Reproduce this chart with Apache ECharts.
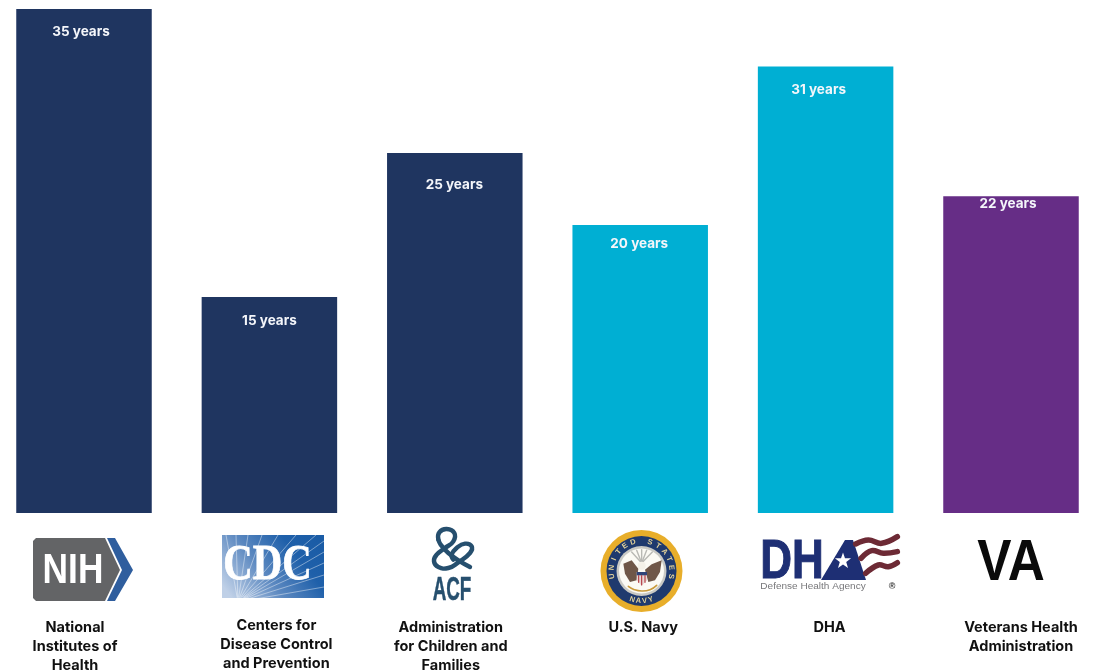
<!DOCTYPE html>
<html>
<head>
<meta charset="utf-8">
<style>html,body{margin:0;padding:0;background:#fff}#chart{width:1095px;height:672px}</style>
<script src="https://cdn.jsdelivr.net/npm/echarts@6/dist/echarts.min.js"></script>
</head>
<body>
<div id="chart"></div>
<script>
// Years of service by agency
const agencies = ['National\nInstitutes of\nHealth', 'Centers for\nDisease Control\nand Prevention', 'Administration\nfor Children and\nFamilies', 'U.S. Navy', 'DHA', 'Veterans Health\nAdministration'];
const years = [35, 15, 25, 20, 31, 22];
const barColors = ['#1F3560', '#1F3560', '#1F3560', '#00AFD3', '#00AFD3', '#662D86'];

// Nudges for the value labels and the agency names, in pixels
const valueLabelOffsets = [[-3, 16], [0, 17], [-0.5, 25], [-1, 12], [-7, 16], [-3, 1]];
const nameShifts = [-9, 7, -4, 3, 4, 10];
const nameDrops = [2, 0, 2, 2, 2, 2];

const FONT = 'Inter, "Open Sans", sans-serif';
const LOGO_FONT = '"Liberation Sans", Arial, sans-serif';

function txt(x, y, text, size, fill, opts) {
  opts = opts || {};
  const style = {
    text: text, x: 0, y: 0, fill: fill, align: 'center', verticalAlign: 'middle',
    font: (opts.weight || 'bold') + ' ' + size + 'px ' + (opts.family || LOGO_FONT),
    opacity: opts.opacity == null ? 1 : opts.opacity
  };
  if (opts.outline) {
    style.stroke = fill;
    style.lineWidth = opts.outline;
  }
  return {
    type: 'text', silent: true, x: x, y: y,
    scaleX: opts.sx || 1, scaleY: opts.sy || 1, rotation: opts.rot || 0,
    style: style
  };
}
function poly(points, fill) {
  return { type: 'polygon', silent: true, shape: { points: points }, style: { fill: fill } };
}
function stroke(points, color, width, smooth) {
  return {
    type: 'polyline', silent: true,
    shape: { points: points, smooth: smooth || 0 },
    style: { stroke: color, lineWidth: width, fill: null, lineCap: 'round', lineJoin: 'round' }
  };
}
function disc(cx, cy, r, fill) {
  return { type: 'circle', silent: true, shape: { cx: cx, cy: cy, r: r }, style: { fill: fill } };
}

// NIH tag and chevron
const nihLogo = [
  poly([[36, 538], [105, 538], [120, 570], [105, 601], [36, 601], [33, 598], [33, 541]], '#636466'),
  poly([[107, 538], [115, 538], [133, 570], [115, 601], [107, 601], [122, 570]], '#2F5E9E'),
  txt(73, 571, 'NIH', 42, '#FFFFFF', { sx: 0.84 })
];

// CDC panel with rays fanning out of the lower left
const rayOrigin = [238, 602];
const rayEnds = [[226, 535], [236, 535], [248, 535], [262, 535], [278, 535], [296, 535], [316, 535],
                 [324, 541], [324, 552], [324, 563], [324, 575], [324, 587]];
const cdcLogo = [
  {
    type: 'rect', silent: true, shape: { x: 222, y: 535, width: 102, height: 63 },
    style: {
      fill: {
        type: 'linear', x: 0.1, y: 1, x2: 0.9, y2: 0,
        colorStops: [{ offset: 0, color: '#BFD0E7' }, { offset: 0.4, color: '#5B88C0' }, { offset: 0.75, color: '#1F60AA' }, { offset: 1, color: '#1A5CA6' }]
      }
    }
  }
].concat(rayEnds.map(function (end) {
  const from = [rayOrigin[0] + (end[0] - rayOrigin[0]) * 0.07, rayOrigin[1] + (end[1] - rayOrigin[1]) * 0.07];
  return stroke([from, end], 'rgba(255,255,255,0.42)', 1);
})).concat([
  txt(267.5, 565.5, 'CDC', 51, '#FFFFFF', { family: '"Liberation Serif", serif', sx: 0.8, outline: 0.8 })
]);

// ACF ampersand and wordmark
const acfBlue = '#264F6E';
const acfAt = function (u, v) { return [420 + u / 3, 523 + v / 3]; };
const acfLogo = [
  stroke([[55, 50], [58, 28], [80, 18], [103, 30], [100, 55], [75, 75], [50, 95], [42, 115], [55, 132], [85, 135], [115, 118], [150, 90], [155, 70], [135, 62], [110, 75], [95, 95], [100, 110]].map(function (p) { return acfAt(p[0], p[1]); }), acfBlue, 4.4, 0.5),
  stroke([[55, 50], [62, 65], [85, 90], [120, 115], [150, 132]].map(function (p) { return acfAt(p[0], p[1]); }), acfBlue, 4.4, 0.4),
  txt(452, 590.5, 'ACF', 33, acfBlue, { sx: 0.57, outline: 0.5 })
];

// Navy seal
const sealAt = function (u, v) { return [595 + u / 3, 527 + v / 3]; };
const sealPoly = function (pts, fill) { return poly(pts.map(function (p) { return sealAt(p[0], p[1]); }), fill); };
const sealCx = 641.5, sealCy = 571;
const sealLetters = [];
'UNITED STATES'.split('').forEach(function (ch, i, all) {
  const a = (-100 + 200 * i / (all.length - 1)) * Math.PI / 180;
  sealLetters.push(txt(sealCx + 30 * Math.sin(a), sealCy - 30 * Math.cos(a), ch, 7.5, '#E2D29A', { rot: -a }));
});
'NAVY'.split('').forEach(function (ch, i, all) {
  const b = (18 - 36 * i / (all.length - 1)) * Math.PI / 180;
  sealLetters.push(txt(sealCx - 30 * Math.sin(b), sealCy + 30 * Math.cos(b), ch, 7.5, '#E2D29A', { rot: -b }));
});
const sealRays = [[110, 75], [125, 70], [140, 68], [155, 70], [172, 75]];
const navyLogo = [
  disc(sealCx, sealCy, 41, '#E8AE2A'),
  disc(sealCx, sealCy, 35, '#1F3A6E'),
  disc(sealCx, sealCy, 25, '#C9C9C4'),
  disc(sealCx, sealCy, 22.5, '#FBFAF4')
].concat(sealLetters).concat(sealRays.map(function (end) {
  return stroke([sealAt(140, 108), sealAt(end[0], end[1])], '#B9B9B4', 1.4);
})).concat([
  sealPoly([[85, 110], [110, 100], [130, 125], [125, 160], [105, 165], [90, 140]], '#6F5748'),
  sealPoly([[200, 100], [170, 112], [150, 128], [160, 165], [180, 160], [195, 135]], '#6F5748'),
  disc(sealAt(140, 116)[0], sealAt(140, 116)[1], 4, '#F4F1E8'),
  sealPoly([[125, 135], [156, 135], [156, 160], [140, 176], [125, 160]], '#E9DAD6'),
  sealPoly([[125, 135], [156, 135], [156, 145], [125, 145]], '#2F4478'),
  stroke([[131, 146], [131, 166]].map(function (p) { return sealAt(p[0], p[1]); }), '#B2343C', 1.1),
  stroke([[140, 146], [140, 174]].map(function (p) { return sealAt(p[0], p[1]); }), '#B2343C', 1.1),
  stroke([[150, 146], [150, 166]].map(function (p) { return sealAt(p[0], p[1]); }), '#B2343C', 1.1),
  stroke([[100, 178], [118, 188], [140, 192], [165, 188], [185, 175]].map(function (p) { return sealAt(p[0], p[1]); }), '#C99A3A', 1.6, 0.5)
]);

// DHA wordmark: solid A carrying the star, then the flag stripes
const dhaAt = function (u, v) { return [735 + u / 3, 510 + v / 3]; };
const dhaNavy = '#1E2F74';
const dhaStripes = [
  [[362, 102], [400, 90], [440, 100], [487, 80]],
  [[378, 145], [410, 122], [445, 130], [487, 125]],
  [[392, 190], [430, 165], [460, 170], [487, 158]]
];
const starPoints = [];
for (let i = 0; i < 10; i++) {
  const a = -Math.PI / 2 + i * Math.PI / 5;
  const r = i % 2 ? 3.4 : 8.5;
  starPoints.push([843 + r * Math.cos(a), 561 + r * Math.sin(a)]);
}
const dhaLogo = [
  txt(792, 562.5, 'DH', 55, dhaNavy, { sx: 0.8, outline: 1 }),
  poly([[845, 540], [853, 540], [866, 580], [821, 580]], dhaNavy),
  poly(starPoints, '#FFFFFF')
].concat(dhaStripes.map(function (band) {
  return stroke(band.map(function (p) { return dhaAt(p[0], p[1]); }), '#6D2A35', 5.5, 0.4);
})).concat([
  txt(813, 587, 'Defense Health Agency', 8.5, '#77777A', { weight: 'normal', sx: 1.18 }),
  txt(892, 587, '®', 9, '#333333')
]);

// VA wordmark
const vaLogo = [txt(1011, 564.5, 'VA', 57, '#0A0A0A', { sx: 0.9 })];

const option = {
  animation: false,
  backgroundColor: '#FFFFFF',
  grid: { left: -8.7, top: 9, width: 1112.4, height: 504, containLabel: false, outerBoundsMode: 'none' },
  xAxis: {
    type: 'category',
    data: agencies.map(function (name, i) {
      const shift = nameShifts[i];
      return {
        value: name,
        textStyle: {
          padding: [nameDrops[i], shift < 0 ? -2 * shift : 0, 0, shift > 0 ? 2 * shift : 0],
          verticalAlign: 'top'
        }
      };
    }),
    axisLine: { show: false },
    axisTick: { show: false },
    axisLabel: {
      interval: 0, hideOverlap: false, margin: 103, lineHeight: 19,
      fontFamily: FONT, fontSize: 14.5, fontWeight: 700, color: '#111111', align: 'center', verticalAlign: 'top'
    }
  },
  yAxis: { type: 'value', min: 0, max: 35, show: false },
  series: [{
    type: 'bar',
    barWidth: 135.5,
    data: years.map(function (v, i) {
      return {
        value: v,
        itemStyle: { color: barColors[i] },
        label: { offset: valueLabelOffsets[i] }
      };
    }),
    label: {
      show: true, position: 'insideTop', distance: 0,
      formatter: '{c} years',
      fontFamily: FONT, fontSize: 13.5, fontWeight: 700, color: '#F4F6FA'
    }
  }],
  graphic: { elements: [].concat(nihLogo, cdcLogo, acfLogo, navyLogo, dhaLogo, vaLogo) }
};

echarts.init(document.getElementById('chart'), null, { renderer: 'canvas' }).setOption(option);
</script>
</body>
</html>
